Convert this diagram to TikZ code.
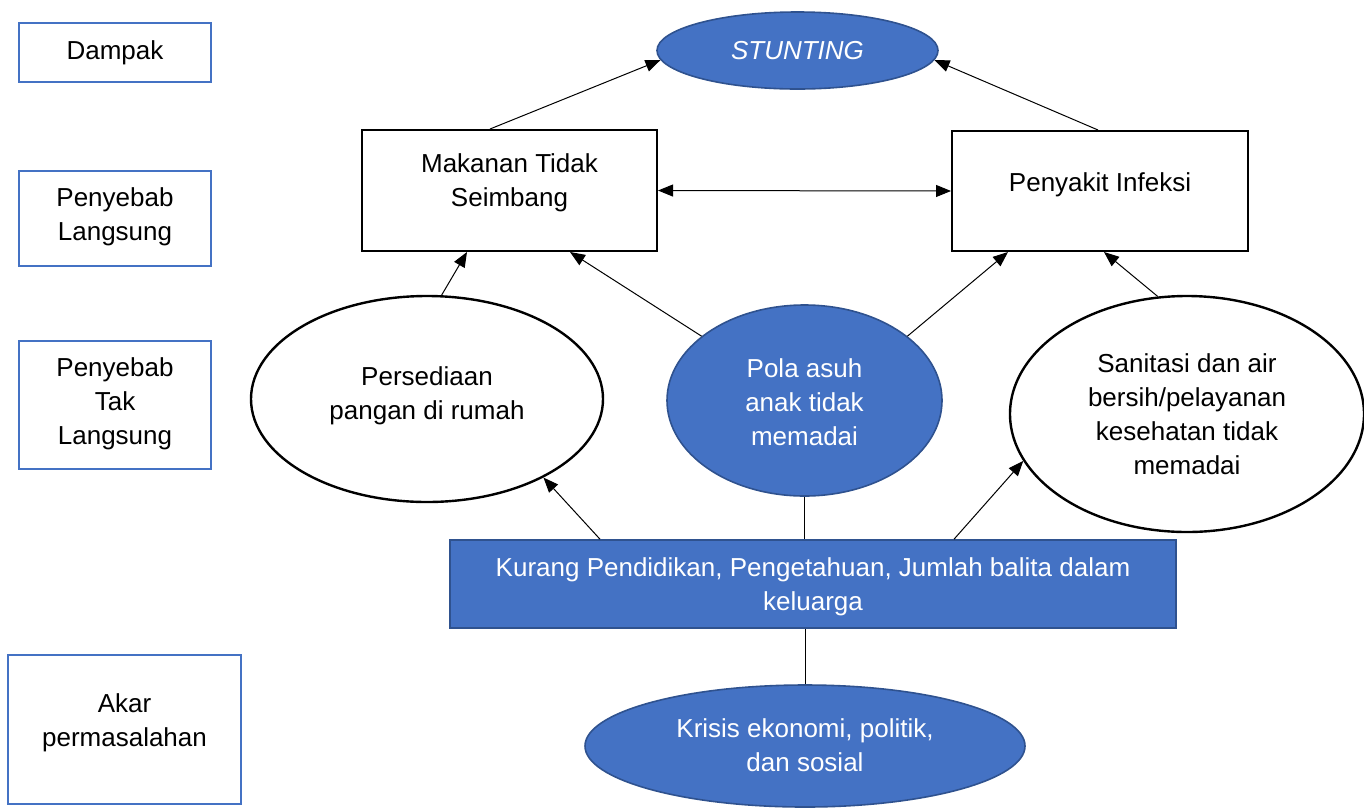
\documentclass[tikz,border=0pt]{standalone}
\usepackage{fontspec}
\setmainfont{Liberation Sans}
\usetikzlibrary{shapes.geometric,arrows.meta}
\definecolor{wblue}{HTML}{4472C4}
\definecolor{wdark}{HTML}{2F528F}
\newcommand{\liftlines}[2]{\raisebox{#1}[\height][\depth]{\begin{tabular}{@{}c@{}}#2\end{tabular}}}
\tikzset{
  every node/.style={font=\fontsize{26}{34}\selectfont, align=center, inner sep=0pt},
  levelbox/.style={draw=wblue, line width=2pt, rectangle},
  causebox/.style={draw=black, line width=2pt, rectangle, fill=white},
  whiteell/.style={draw=black, line width=2.4pt, ellipse, fill=white},
  blueell/.style={draw=wdark, line width=1.6pt, ellipse, fill=wblue, text=white},
  bluebox/.style={draw=wdark, line width=1.6pt, rectangle, fill=wblue, text=white},
  arr/.style={draw=black, line width=1pt, -{Triangle[length=15pt,width=12pt]}},
  dblarr/.style={draw=black, line width=1pt, {Triangle[length=15pt,width=12pt]}-{Triangle[length=15pt,width=12pt]}},
  plain/.style={draw=black, line width=1pt}
}
\begin{document}
\begin{tikzpicture}[x=1pt,y=-1pt]
\useasboundingbox (0,0) rectangle (1364,807);
% level labels
\node[levelbox, minimum width=192pt, minimum height=59pt] (dampak) at (115,52.5) {Dampak};
\node[levelbox, minimum width=192pt, minimum height=95pt] (langsung) at (115,218.5) {\liftlines{2pt}{Penyebab\\Langsung}};
\node[levelbox, minimum width=192pt, minimum height=128pt] (taklangsung) at (115,405) {\liftlines{1pt}{Penyebab\\Tak\\Langsung}};
\node[levelbox, minimum width=233pt, minimum height=149pt] (akar) at (124.5,729.5) {\liftlines{7pt}{Akar\\permasalahan}};
% main nodes
\node[blueell, minimum width=281pt, minimum height=77pt] (stunting) at (797.5,50.5) {\itshape STUNTING};
\node[causebox, minimum width=295pt, minimum height=121pt] (mak) at (509.5,190.5) {\liftlines{8pt}{Makanan Tidak\\Seimbang}};
\node[causebox, minimum width=296pt, minimum height=120pt] (peny) at (1100,191) {\liftlines{6pt}{Penyakit Infeksi}};
\node[whiteell, minimum width=352pt, minimum height=206pt] (pers) at (427,399) {\liftlines{3pt}{Persediaan\\pangan di rumah}};
\node[blueell, minimum width=275pt, minimum height=191pt] (pola) at (804.5,400.5) {\liftlines{-4pt}{Pola asuh\\anak tidak\\memadai}};
\node[whiteell, minimum width=354pt, minimum height=236pt] (san) at (1187,414) {Sanitasi dan air\\bersih/pelayanan\\kesehatan tidak\\memadai};
\node[bluebox, minimum width=726pt, minimum height=88pt] (kur) at (813,584) {\liftlines{-3pt}{Kurang Pendidikan, Pengetahuan, Jumlah balita dalam\\keluarga}};
\node[blueell, minimum width=440pt, minimum height=122pt] (kri) at (805,746) {\liftlines{-2pt}{Krisis ekonomi, politik,\\dan sosial}};
% connectors
\draw[arr] ([xshift=-19.5pt]mak.north) -- (stunting.184);
\draw[arr] ([xshift=-2pt]peny.north) -- (stunting.356);
\draw[dblarr] (mak.east) -- (peny.west);
\draw[arr] (pers.82.5) -- ([xshift=-42.5pt]mak.south);
\draw[arr] (pola.148) -- ([xshift=60.5pt]mak.south);
\draw[arr] (pola.32) -- ([xshift=-92pt]peny.south);
\draw[arr] (san.104.7) -- ([xshift=4pt]peny.south);
\draw[arr] ([xshift=-213pt]kur.north) -- (pers.-34);
\draw[plain] (pola.south) -- (pola.south |- kur.north);
\draw[arr] ([xshift=141pt]kur.north) -- (san.196.5);
\draw[plain] (kri.north) -- (kri.north |- kur.south);
\end{tikzpicture}
\end{document}
